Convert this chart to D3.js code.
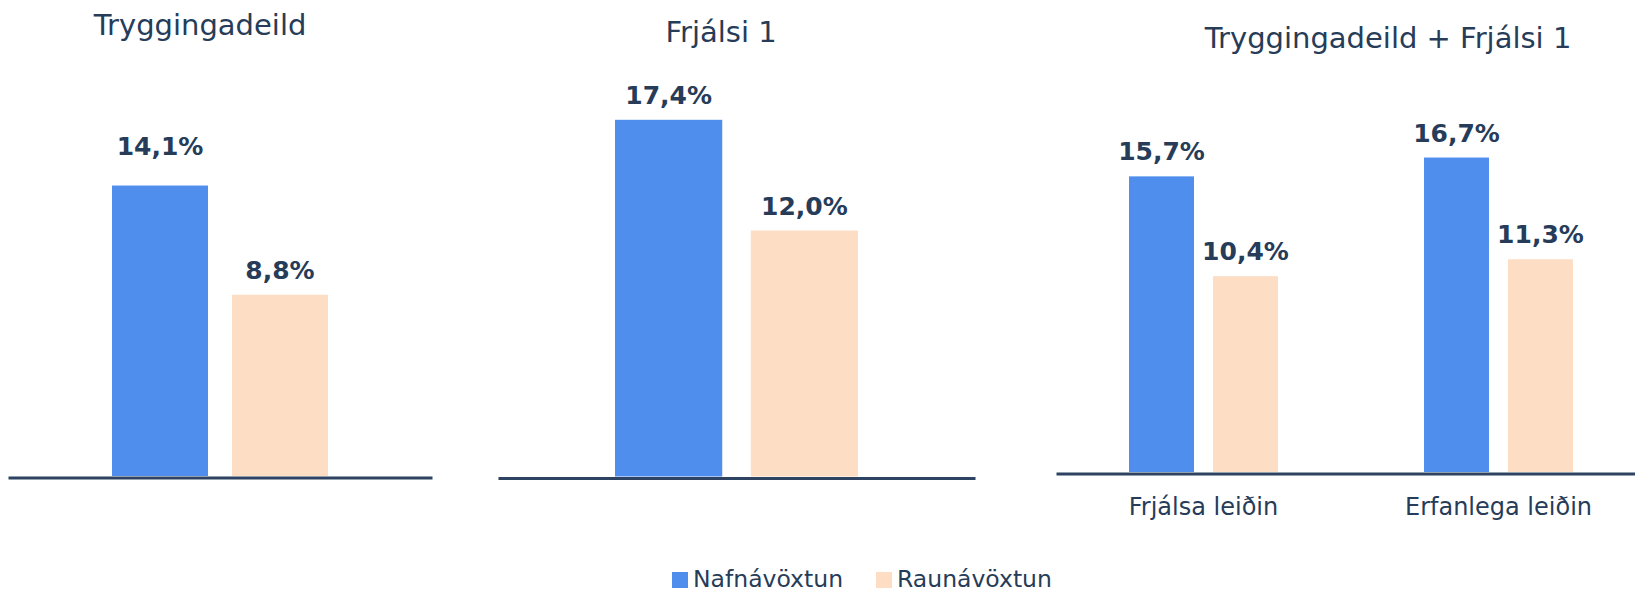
<!DOCTYPE html>
<html>
<head>
    <meta charset="utf-8">
    <title>Nafnávöxtun og raunávöxtun</title>
    <script src="https://d3js.org/d3.v7.min.js"></script>
    <style>
        body { margin: 0; background: #fff; }
        svg { display: block; font-family: "DejaVu Sans", Verdana, sans-serif; }
    </style>
</head>
<body>
    <div id="container"></div>
    <script>
        //---------------------------DATA---------------------------//
        var panelTitles = ["Tryggingadeild", "Frjálsi 1", "Tryggingadeild + Frjálsi 1"];
        var panelCategories = [["Tryggingadeild"], ["Frjálsi 1"], ["Frjálsa leiðin", "Erfanlega leiðin"]];
        var seriesNames = ["Nafnávöxtun", "Raunávöxtun"];
        var nafnavoxtun = [[14.1], [17.4], [15.7, 16.7]];
        var raunavoxtun = [[8.8], [12.0], [10.4, 11.3]];

        //--------------------------LAYOUT--------------------------//
        var W = 1635, H = 592,
            textColor = "#263c58",
            axisColor = "#2d4361",
            color = d3.scaleOrdinal().domain(seriesNames).range(["#508eee", "#fddec4"]);

        // one entry per sub-chart: plot range, baseline, px per percent point
        var layout = [
            { left: 8, right: 432, base: 476, ppp: 20.6, padIn: 0.325, padOut: 0.325, inner: 0.2, titleX: 200, titleY: 35, showCats: false },
            { left: 498, right: 975, base: 476.5, ppp: 20.5, padIn: 0.325, padOut: 0.325, inner: 0.21, titleX: 721, titleY: 42, showCats: false },
            { left: 1056, right: 1646, base: 472, ppp: 18.83, padIn: 0.495, padOut: 0.2475, inner: 0.226, titleX: 1388, titleY: 48, showCats: true }
        ];
        // the first label sits a bit higher than the rest in the original
        var labelGap = 16, labelNudge = { "0-0": 15 };

        var svg = d3.select("#container").append("svg")
            .attr("width", W)
            .attr("height", H);

        layout.forEach(function (L, p) {
            var cats = panelCategories[p];
            var rows = cats.map(function (c, i) {
                return { cat: c, values: [
                    { series: seriesNames[0], value: nafnavoxtun[p][i] },
                    { series: seriesNames[1], value: raunavoxtun[p][i] }
                ] };
            });

            var x0 = d3.scaleBand().domain(cats).range([L.left, L.right])
                .paddingInner(L.padIn).paddingOuter(L.padOut);
            var x1 = d3.scaleBand().domain(seriesNames).range([0, x0.bandwidth()])
                .paddingInner(L.inner);
            var y = d3.scaleLinear().domain([0, 20]).range([L.base, L.base - 20 * L.ppp]);

            var g = svg.append("g").attr("class", "panel");

            // title
            g.append("text")
                .attr("x", L.titleX)
                .attr("y", L.titleY)
                .attr("text-anchor", "middle")
                .style("font-size", "29px")
                .style("fill", textColor)
                .text(panelTitles[p]);

            // bars
            var slice = g.selectAll(".slice")
                .data(rows)
                .enter().append("g")
                .attr("class", "slice")
                .attr("transform", function (d) { return "translate(" + x0(d.cat) + ",0)"; });

            slice.selectAll("rect")
                .data(function (d) { return d.values; })
                .enter().append("rect")
                .attr("x", function (d) { return x1(d.series); })
                .attr("width", x1.bandwidth())
                .attr("y", function (d) { return y(d.value); })
                .attr("height", function (d) { return y(0) - y(d.value); })
                .style("fill", function (d) { return color(d.series); });

            // value labels
            slice.selectAll(".val")
                .data(function (d, i) { return d.values.map(function (v, s) { return { v: v, key: p + "-" + s + (i ? "-" + i : "") }; }); })
                .enter().append("text")
                .attr("class", "val")
                .attr("x", function (d) { return x1(d.v.series) + x1.bandwidth() / 2; })
                .attr("y", function (d) { return y(d.v.value) - labelGap - (labelNudge[d.key] || 0); })
                .attr("text-anchor", "middle")
                .style("font-size", "25px")
                .style("font-weight", "bold")
                .style("fill", textColor)
                .text(function (d) { return d3.format(".1f")(d.v.value).replace(".", ",") + "%"; });

            // baseline axis
            var axis = g.append("g")
                .attr("class", "axis")
                .attr("transform", "translate(0," + (L.base + 1.5) + ")")
                .call(d3.axisBottom(x0).tickSize(0).tickSizeOuter(0).tickPadding(24));

            axis.select(".domain")
                .attr("stroke", axisColor)
                .attr("stroke-width", 3);

            axis.selectAll(".tick text")
                .style("font-size", "24px")
                .style("font-family", "'DejaVu Sans', Verdana, sans-serif")
                .style("fill", textColor)
                .style("display", L.showCats ? null : "none");
        });

        //--------------------------LEGEND--------------------------//
        var legend = svg.append("g").attr("class", "legend");
        var lx = 672;
        seriesNames.forEach(function (name) {
            var item = legend.append("g").attr("transform", "translate(" + lx + ",0)");
            item.append("rect")
                .attr("x", 0)
                .attr("y", 572)
                .attr("width", 16)
                .attr("height", 16)
                .style("fill", color(name));
            var t = item.append("text")
                .attr("x", 21)
                .attr("y", 587)
                .style("font-size", "23.5px")
                .style("fill", textColor)
                .text(name);
            lx += 21 + t.node().getComputedTextLength() + 33;
        });
    </script>
</body>
</html>
